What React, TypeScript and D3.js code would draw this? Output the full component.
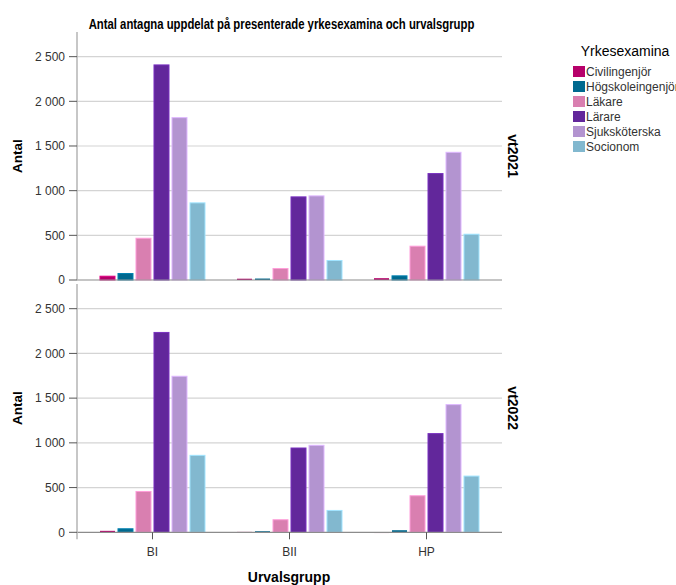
import React from "react";
import * as d3 from "d3";

const groups = ["BI", "BII", "HP"];
const series = ["Civilingenjör", "Högskoleingenjör", "Läkare", "Lärare", "Sjuksköterska", "Socionom"];
const colors = ["#b6006a", "#00698f", "#d97fb0", "#62279b", "#b394d0", "#82b8cf"];
const panels = ["vt2021", "vt2022"];
// values[series][group]
const vt2021 = [
  [48, 20, 26],
  [78, 22, 52],
  [473, 134, 384],
  [2413, 936, 1197],
  [1823, 947, 1435],
  [869, 224, 518],
];
const vt2022 = [
  [22, 10, 3],
  [45, 18, 29],
  [462, 146, 414],
  [2240, 948, 1109],
  [1750, 978, 1433],
  [866, 250, 634],
];
const yTicks = [0, 500, 1000, 1500, 2000, 2500];
const panelData = [vt2021, vt2022];

const W = 676, H = 585;
const plotLeft = 77, plotRight = 502;
const panelBox = [
  { top: 32, bottom: 280 },
  { top: 284, bottom: 532.3 },
];
const yMax = 2776;
const font = "'Liberation Sans', Arial, sans-serif";

const fmt = (v: number) => d3.format(",")(v).replace(/,/g, " ");

export default function App() {
  const x = d3.scaleBand<string>().domain(groups).range([plotLeft, plotRight]).paddingInner(0).paddingOuter(0.051);
  const xs = d3.scaleBand<string>().domain(series).range([-54, 54]).paddingInner(2 / 18).paddingOuter(1 / 18);
  return (
    <svg width={W} height={H} style={{ position: "absolute", left: 0, top: 0, background: "#fff" }} fontFamily={font}>
      <text transform="translate(281.5,29) scale(0.81,1)" textAnchor="middle" fontWeight="bold" fontSize={14} fill="#000">
        Antal antagna uppdelat på presenterade yrkesexamina och urvalsgrupp
      </text>
      {panels.map((p, pi) => {
        const b = panelBox[pi];
        const y = d3.scaleLinear().domain([0, yMax]).range([b.bottom, b.top]);
        const data = panelData[pi];
        return (
          <g key={p}>
            {yTicks.filter((t) => t > 0).map((t) => (
              <line key={t} x1={plotLeft} x2={plotRight} y1={y(t)} y2={y(t)} stroke="#d4d4d4" strokeWidth={1.2} />
            ))}
            {series.map((s, si) =>
              groups.map((g, gi) => {
                const v = data[si][gi];
                const cx = (x(g) as number) + x.bandwidth() / 2;
                const bx = cx + (xs(s) as number);
                const h = y(0) - y(v);
                return (
                  <rect
                    key={s + g}
                    x={bx + 0.5}
                    y={y(v) + 0.5}
                    width={xs.bandwidth() - 1}
                    height={Math.max(h - 0.5, 0.5)}
                    fill={colors[si]}
                    stroke={d3.color(colors[si])!.brighter(0.6).formatHex()}
                    strokeWidth={h > 3 ? 1 : 0}
                  />
                );
              })
            )}
            <line x1={plotLeft} x2={plotRight} y1={y(0)} y2={y(0)} stroke="#8c8c8c" strokeWidth={1.2} />
            <line x1={plotLeft} x2={plotLeft} y1={b.top} y2={pi === 1 ? b.bottom + 7 : b.bottom} stroke="#b5b5b5" strokeWidth={1.5} />
            {yTicks.map((t) => (
              <g key={t}>
                <line x1={plotLeft - 8} x2={plotLeft} y1={y(t)} y2={y(t)} stroke="#555" strokeWidth={1} />
                <text x={65} y={y(t) + 4.3} textAnchor="end" fontSize={12} fill="#333">
                  {fmt(t)}
                </text>
              </g>
            ))}
            <text transform={`translate(22,${(b.top + b.bottom) / 2}) rotate(-90)`} textAnchor="middle" fontSize={13.5} fontWeight="bold" fill="#000">
              Antal
            </text>
            <text transform={`translate(508,${(b.top + b.bottom) / 2}) rotate(90)`} textAnchor="middle" fontSize={14} fontWeight="bold" fill="#000">
              {p}
            </text>
          </g>
        );
      })}
      {groups.map((g) => {
        const cx = (x(g) as number) + x.bandwidth() / 2;
        return (
          <g key={g}>
            <line x1={cx} x2={cx} y1={panelBox[1].bottom} y2={panelBox[1].bottom + 7} stroke="#555" strokeWidth={1} />
            <text x={cx} y={556} textAnchor="middle" fontSize={12} fill="#333">
              {g}
            </text>
          </g>
        );
      })}
      <text x={289} y={582} textAnchor="middle" fontSize={14} fontWeight="bold" fill="#000">
        Urvalsgrupp
      </text>
      <text x={625} y={56} textAnchor="middle" fontSize={14} fill="#000">
        Yrkesexamina
      </text>
      {series.map((s, si) => (
        <g key={s} transform={`translate(573,${66 + si * 15})`}>
          <rect x={0} y={0} width={12} height={11} fill={colors[si]} />
          <text x={13} y={10} fontSize={12} fill="#333">
            {s}
          </text>
        </g>
      ))}
    </svg>
  );
}
